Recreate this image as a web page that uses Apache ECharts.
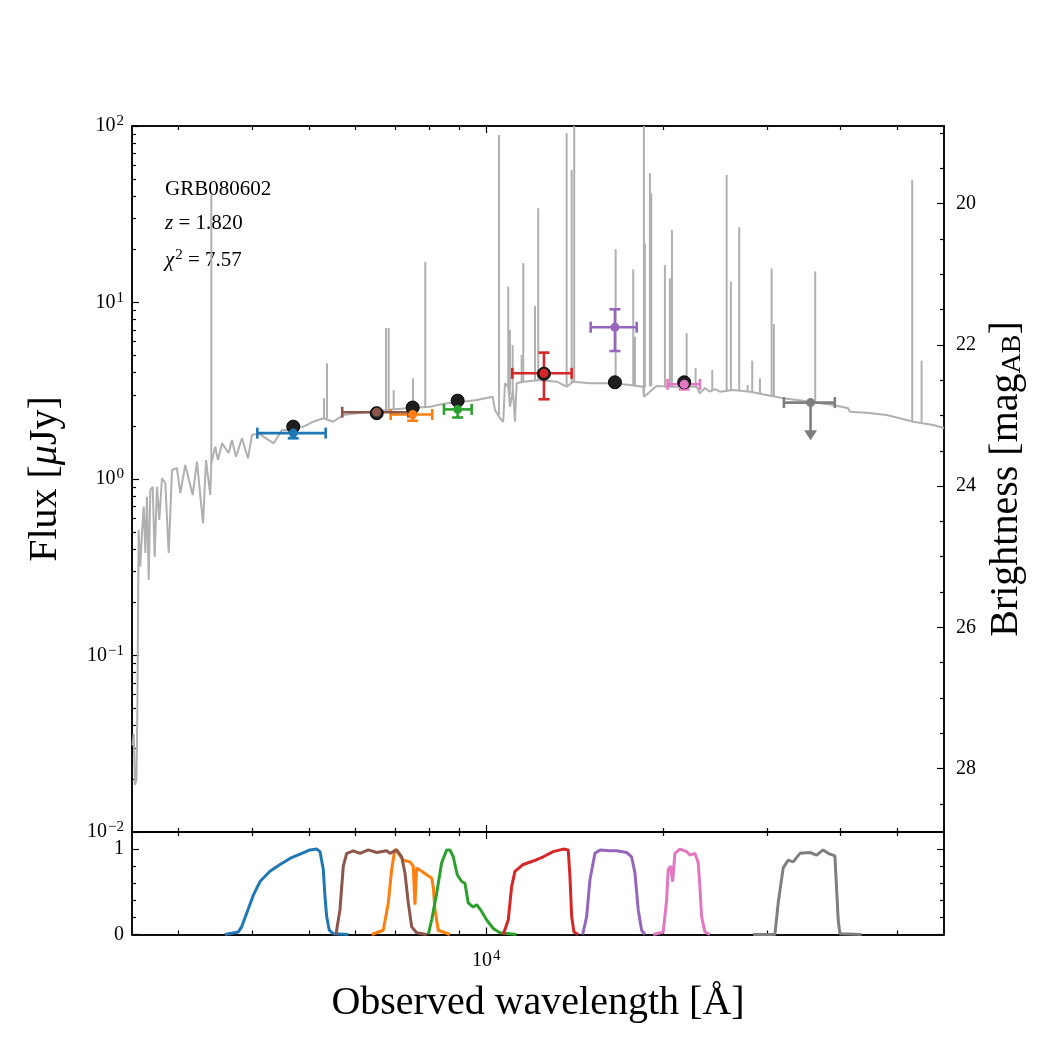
<!DOCTYPE html>
<html>
<head>
<meta charset="utf-8">
<script src="https://cdn.jsdelivr.net/npm/echarts@6/dist/echarts.min.js"></script>
<style>html,body{margin:0;padding:0;background:#fff}#sed{width:1050px;height:1050px}</style>
</head>
<body>
<div id="sed"></div>
<script>
// model spectrum (continuum), wavelength in Angstrom, flux in microJy
var specWave = [2505, 2517, 2529, 2544, 2554, 2566, 2583, 2600, 2617, 2634, 2651, 2669, 2686, 2711, 2732, 2757, 2782, 2811, 2848, 2886,
  2924, 2981, 3020, 3080, 3170, 3224, 3301, 3340, 3396, 3410, 3463, 3500, 3556, 3650, 3697, 3756, 3845, 3936, 3998, 4105,
  4353, 4497, 4640, 4801, 4888, 5083, 5286, 5496, 5716, 6023, 6427, 6773, 7325, 8024, 8566, 9141, 9633, 10256, 10349, 10553,
  10690, 10762, 10901, 10974, 11104, 11191, 11266, 11561, 12342, 13174, 13700, 14058, 15008, 16440, 17551, 18489, 18539, 19484, 20525, 21621,
  22785, 23081, 23537, 24002, 24477, 24960, 26294, 28070, 29966, 31977, 35499, 38889, 41241, 41516, 44320, 47928, 50488, 53186, 57516, 60000];
var specFlux = [0.031, 0.036, 0.0185, 0.0197, 0.056, 0.514, 0.318, 0.494, 0.697, 0.381, 0.794, 0.268, 0.867, 0.904, 0.363, 0.904, 0.586, 1.01, 0.949, 0.381,
  1.125, 1.154, 0.833, 1.20, 0.811, 1.253, 0.561, 1.281, 0.811, 1.232, 1.524, 1.281, 1.593, 1.404, 1.663, 1.337, 1.70, 1.31, 1.776, 1.815,
  1.593, 1.895, 1.895, 1.978, 1.978, 2.112, 2.208, 2.112, 2.304, 2.356, 2.406, 2.460, 2.515, 2.568, 2.685, 2.742, 2.803, 2.926, 2.460, 2.208,
  2.112, 3.485, 3.334, 2.568, 3.193, 2.112, 3.485, 3.559, 3.638, 3.559, 3.334, 3.559, 3.485, 3.485, 3.409, 3.334, 2.926, 3.365, 3.334, 3.334,
  3.334, 3.059, 3.278, 3.123, 3.23, 3.123, 3.193, 3.123, 2.991, 2.866, 2.742, 2.626, 2.515, 2.406, 2.374, 2.304, 2.208, 2.112, 2.023, 1.945];

// emission lines of the model: wavelength, peak flux, continuum under the line
var lineWave = [3410, 5300, 5363, 6755, 6827, 6962, 7508, 7878, 10512, 10901, 10974, 11091, 11488, 11561, 12103, 12260, 13700, 13971, 14113, 16596,
  17779, 17898, 18539, 18612, 18980, 19077, 20127, 20525, 20686, 21911, 22696, 24221, 25624, 26059, 26919, 27819, 28324, 29191, 30558, 30834,
  36242, 52978, 54963];
var linePeak = [40.6, 2.87, 4.52, 7.17, 7.17, 3.19, 3.72, 17.0, 88.9, 12.3, 6.99, 5.74, 5.04, 16.7, 9.55, 34.2, 90.9, 56.3, 110, 20.1,
  15.4, 6.40, 120, 21.6, 54.0, 41.6, 16.3, 13.7, 25.8, 6.69, 4.24, 4.15, 52.8, 13.1, 26.7, 3.41, 4.68, 3.72, 15.6, 7.55,
  15.0, 49.4, 4.68];
var lineBase = [1.23, 2.2, 2.2, 2.45, 2.46, 2.47, 2.5, 2.55, 2.3, 3.3, 3.0, 3.2, 3.5, 3.55, 3.6, 3.6, 3.4, 3.5, 3.55, 3.48,
  3.4, 3.4, 3.0, 3.3, 3.35, 3.35, 3.33, 3.33, 3.33, 3.33, 3.33, 3.15, 3.18, 3.18, 3.16, 3.12, 3.1, 3.05, 2.95, 2.95,
  2.72, 2.13, 2.09];

// photometry (tab10 colour order)
var photColors = ['#1f77b4', '#ff7f0e', '#2ca02c', '#d62728', '#9467bd', '#8c564b', '#e377c2', '#7f7f7f'];
var photWave = [4699, 7499, 8943, 12537, 16550, 6514, 21706, 35590];
var photWaveLo = [4083, 6880, 8476, 11074, 15051, 5692, 20337, 32064];
var photWaveHi = [5335, 8096, 9446, 13972, 18020, 7371, 23084, 39140];
var photFlux = [1.82, 2.32, 2.48, 3.97, 7.24, 2.39, 3.44, 2.71];
var photFluxLo = [1.70, 2.14, 2.23, 2.83, 5.31, 2.35, 3.22, 1.66];
var photFluxHi = [1.91, 2.50, 2.71, 5.20, 9.15, 2.43, 3.67, 2.71];
var photUpper = [0, 0, 0, 0, 0, 0, 0, 1];
var modelFlux = [1.98, 2.54, 2.78, 3.95, 3.53, 2.36, 3.53, null];

// filter transmission curves
var gWave = [3597, 3790, 3840, 3916, 4019, 4126, 4290, 4462, 4640, 4825, 5018, 5151, 5218, 5286, 5321, 5356, 5411, 5496, 5828];
var gTrans = [0, 0.03, 0.09, 0.25, 0.46, 0.62, 0.74, 0.82, 0.89, 0.94, 0.99, 1.0, 0.97, 0.76, 0.44, 0.21, 0.05, 0.01, 0];
var iWave = [6387, 6684, 6816, 6907, 6997, 7088, 7228, 7420, 7516, 7566, 7617, 7768, 7921, 8078, 8128, 8183, 8289, 8677];
var iTrans = [0, 0.05, 0.37, 0.76, 1.0, 0.95, 0.87, 0.85, 0.80, 0.35, 0.78, 0.74, 0.70, 0.66, 0.56, 0.29, 0.05, 0];
var zWave = [7971, 8078, 8237, 8400, 8566, 8677, 8790, 8929, 9084, 9202, 9322, 9506, 9633, 9823, 10018, 10280, 10553, 11266];
var zTrans = [0, 0.17, 0.48, 0.84, 0.99, 0.99, 0.91, 0.70, 0.62, 0.60, 0.37, 0.32, 0.35, 0.27, 0.17, 0.07, 0.02, 0];
var jWave = [10690, 10901, 11047, 11191, 11561, 12022, 12502, 13001, 13520, 13787, 13879, 13972, 14098, 14337];
var jTrans = [0, 0.17, 0.56, 0.74, 0.82, 0.86, 0.91, 0.97, 1.0, 0.99, 0.68, 0.21, 0.03, 0];
var hWave = [14586, 14816, 15008, 15306, 15608, 16231, 16661, 17326, 17668, 17898, 18130, 18373, 18612];
var hTrans = [0, 0.21, 0.64, 0.95, 0.99, 0.98, 0.98, 0.96, 0.91, 0.72, 0.29, 0.05, 0];
var rWave = [5554, 5642, 5716, 5792, 5944, 6101, 6303, 6514, 6773, 6861, 7044, 7183, 7276, 7371, 7470, 7617, 7921];
var rTrans = [0, 0.29, 0.80, 0.95, 0.98, 0.95, 0.99, 0.96, 0.98, 0.95, 0.99, 0.91, 0.72, 0.37, 0.09, 0.02, 0];
var kWave = [19227, 19994, 20262, 20389, 20581, 20743, 20931, 21344, 21911, 22196, 22634, 22928, 23081, 23235, 23537, 24002];
var kTrans = [0, 0.03, 0.40, 0.76, 0.80, 0.62, 0.95, 1.0, 0.97, 0.93, 0.95, 0.84, 0.56, 0.21, 0.03, 0];
var chWave = [28435, 30955, 31358, 31977, 32609, 33253, 34137, 35499, 36441, 37395, 38134, 39147, 39656, 39920, 43461];
var chTrans = [0, 0, 0.37, 0.78, 0.87, 0.85, 0.95, 0.96, 0.93, 0.99, 0.95, 0.92, 0.17, 0.01, 0];

// ticks
var waveMajor = [10000];
var waveMinor = [3000, 4000, 5000, 6000, 7000, 8000, 9000, 20000, 30000, 40000, 50000];
var fluxMajor = [0.01, 0.1, 1, 10, 100];
var fluxMinor = [0.02, 0.03, 0.04, 0.05, 0.06, 0.07, 0.08, 0.09, 0.2, 0.3, 0.4, 0.5, 0.6, 0.7, 0.8, 0.9,
  2, 3, 4, 5, 6, 7, 8, 9, 20, 30, 40, 50, 60, 70, 80, 90];
var magMajor = [20, 22, 24, 26, 28];
var magMinor = [19, 19.5, 20.5, 21, 21.5, 22.5, 23, 23.5, 24.5, 25, 25.5, 26.5, 27, 27.5, 28.5];
var transMajor = [0, 1];
var transMinor = [0.2, 0.4, 0.6, 0.8];

var FONT = '"Liberation Serif", "DejaVu Serif", serif';
var GREY = '#b0b0b0';
var chart = echarts.init(document.getElementById('sed'), null, {renderer: 'canvas'});

function pairs(xs, ys) {
  var out = [];
  for (var i = 0; i < xs.length; i++) out.push([xs[i], ys[i]]);
  return out;
}

function powLabel(v) {
  var e = Math.round(Math.log10(v));
  return '{b|10}{s|' + (e < 0 ? '\u2212' + (-e) : e) + '}';
}
var powRich = {
  b: {fontFamily: FONT, fontSize: 20, color: '#000'},
  s: {fontFamily: FONT, fontSize: 15, color: '#000', verticalAlign: 'bottom', padding: [0, 0, 9, 1]}
};

function axis(grid, pos, type, min, max, ticks, len, extra) {
  var a = {
    type: type, gridIndex: grid, position: pos, min: min, max: max,
    axisLine: {show: true, onZero: false, lineStyle: {color: '#000', width: 1.5}},
    axisTick: {show: true, inside: true, length: len, customValues: ticks, lineStyle: {color: '#000', width: 1.2}},
    axisLabel: {show: false},
    splitLine: {show: false},
    minorTick: {show: false},
    minorSplitLine: {show: false}
  };
  if (type === 'log') a.logBase = 10;
  for (var k in extra) a[k] = extra[k];
  return a;
}

var xAxes = [
  axis(0, 'bottom', 'log', 2500, 60000, waveMajor, 7),
  axis(0, 'bottom', 'log', 2500, 60000, waveMinor, 4),
  axis(0, 'top', 'log', 2500, 60000, waveMajor, 7),
  axis(0, 'top', 'log', 2500, 60000, waveMinor, 4),
  axis(1, 'top', 'log', 2500, 60000, waveMajor, 7),
  axis(1, 'top', 'log', 2500, 60000, waveMinor, 4),
  axis(1, 'bottom', 'log', 2500, 60000, waveMajor, 7, {
    axisLabel: {show: true, customValues: waveMajor, margin: 14, formatter: powLabel, rich: powRich}
  }),
  axis(1, 'bottom', 'log', 2500, 60000, waveMinor, 4, {
    name: 'Observed wavelength [\u00c5]', nameLocation: 'middle', nameGap: 49,
    nameTextStyle: {fontFamily: FONT, fontSize: 40, color: '#000'}
  })
];

var yAxes = [
  axis(0, 'left', 'log', 0.01, 100, fluxMajor, 7, {
    axisLabel: {show: true, customValues: fluxMajor, margin: 8, formatter: powLabel, rich: powRich},
    name: 'Flux [{i|\u03bc}Jy]', nameLocation: 'middle', nameGap: 67, nameRotate: 90,
    nameTextStyle: {fontFamily: FONT, fontSize: 40, color: '#000',
      rich: {i: {fontFamily: FONT, fontSize: 40, fontStyle: 'italic', color: '#000'}}}
  }),
  axis(0, 'left', 'log', 0.01, 100, fluxMinor, 4),
  axis(0, 'right', 'value', 18.9, 28.9, magMajor, 7, {
    inverse: true,
    axisLabel: {show: true, customValues: magMajor, margin: 12, fontFamily: FONT, fontSize: 20, color: '#000'},
    name: 'Brightness [mag{sub|AB}]', nameLocation: 'middle', nameGap: 37, nameRotate: 90,
    nameTextStyle: {fontFamily: FONT, fontSize: 40, color: '#000',
      rich: {sub: {fontFamily: FONT, fontSize: 28, color: '#000', verticalAlign: 'bottom'}}}
  }),
  axis(0, 'right', 'value', 18.9, 28.9, magMinor, 4, {inverse: true}),
  axis(1, 'left', 'value', 0, 1.2, transMajor, 7, {
    axisLabel: {show: true, customValues: transMajor, margin: 8, fontFamily: FONT, fontSize: 20, color: '#000'}
  }),
  axis(1, 'left', 'value', 0, 1.2, transMinor, 4),
  axis(1, 'right', 'value', 0, 1.2, transMajor, 7),
  axis(1, 'right', 'value', 0, 1.2, transMinor, 4)
];

function drawEmission(params, api) {
  var top = api.coord([api.value(0), api.value(1)]);
  var bot = api.coord([api.value(0), api.value(2)]);
  return {type: 'line', shape: {x1: top[0], y1: top[1], x2: bot[0], y2: bot[1]},
    style: {stroke: GREY, lineWidth: 2}};
}

function drawErrorBar(params, api) {
  var col = photColors[params.dataIndex];
  var c = api.coord([api.value(0), api.value(1)]);
  var l = api.coord([api.value(2), api.value(1)]);
  var r = api.coord([api.value(3), api.value(1)]);
  var b = api.coord([api.value(0), api.value(4)]);
  var t = api.coord([api.value(0), api.value(5)]);
  var st = {stroke: col, lineWidth: 2.6};
  var cap = 5.5;
  var kids = [
    {type: 'line', shape: {x1: l[0], y1: c[1], x2: r[0], y2: c[1]}, style: st},
    {type: 'line', shape: {x1: l[0], y1: c[1] - cap, x2: l[0], y2: c[1] + cap}, style: st},
    {type: 'line', shape: {x1: r[0], y1: c[1] - cap, x2: r[0], y2: c[1] + cap}, style: st}
  ];
  if (api.value(6)) {
    kids.push({type: 'line', shape: {x1: c[0], y1: c[1], x2: c[0], y2: b[1] - 9}, style: st});
    kids.push({type: 'polygon', shape: {points: [[c[0] - 6.5, b[1] - 10], [c[0] + 6.5, b[1] - 10], [c[0], b[1]]]},
      style: {fill: col}});
  } else {
    kids.push({type: 'line', shape: {x1: c[0], y1: t[1], x2: c[0], y2: b[1]}, style: st});
    kids.push({type: 'line', shape: {x1: c[0] - cap, y1: t[1], x2: c[0] + cap, y2: t[1]}, style: st});
    kids.push({type: 'line', shape: {x1: c[0] - cap, y1: b[1], x2: c[0] + cap, y2: b[1]}, style: st});
  }
  return {type: 'group', children: kids};
}

var lineData = [];
for (var i = 0; i < lineWave.length; i++) lineData.push([lineWave[i], linePeak[i], lineBase[i]]);

var errData = [], markData = [], modelData = [];
for (var j = 0; j < photWave.length; j++) {
  errData.push([photWave[j], photFlux[j], photWaveLo[j], photWaveHi[j], photFluxLo[j], photFluxHi[j], photUpper[j]]);
  markData.push({value: [photWave[j], photFlux[j]], itemStyle: {color: photColors[j]}});
  if (modelFlux[j] !== null) modelData.push([photWave[j], modelFlux[j]]);
}

var filters = [
  [gWave, gTrans], [iWave, iTrans], [zWave, zTrans], [jWave, jTrans],
  [hWave, hTrans], [rWave, rTrans], [kWave, kTrans], [chWave, chTrans]
];

var series = [
  {type: 'line', xAxisIndex: 0, yAxisIndex: 0, data: pairs(specWave, specFlux), symbol: 'none',
    lineStyle: {color: GREY, width: 2}, z: 2},
  {type: 'custom', xAxisIndex: 0, yAxisIndex: 0, data: lineData, renderItem: drawEmission,
    encode: {x: 0, y: [1, 2]}, clip: true, z: 2},
  {type: 'custom', xAxisIndex: 0, yAxisIndex: 0, data: errData, renderItem: drawErrorBar,
    encode: {x: [0, 2, 3], y: [1, 4, 5]}, clip: true, z: 3},
  {type: 'scatter', xAxisIndex: 0, yAxisIndex: 0, data: modelData, symbol: 'circle', symbolSize: 13,
    itemStyle: {color: '#1e1e1e', borderColor: '#000', borderWidth: 1, opacity: 1}, z: 4},
  {type: 'scatter', xAxisIndex: 0, yAxisIndex: 0, data: markData, symbol: 'circle', symbolSize: 9,
    itemStyle: {opacity: 1}, z: 5}
];
filters.forEach(function (f, k) {
  series.push({type: 'line', xAxisIndex: 6, yAxisIndex: 4, data: pairs(f[0], f[1]), symbol: 'none',
    lineStyle: {color: photColors[k], width: 3}, z: 2});
});

chart.setOption({
  animation: false,
  backgroundColor: '#fff',
  grid: [
    {left: 132, top: 126, width: 812, height: 706, containLabel: false, outerBoundsMode: 'none'},
    {left: 132, top: 832, width: 812, height: 102.5, containLabel: false, outerBoundsMode: 'none'}
  ],
  xAxis: xAxes,
  yAxis: yAxes,
  graphic: [
    {type: 'text', left: 165, top: 179, style: {text: 'GRB080602', font: '21px ' + FONT, fill: '#000'}},
    {type: 'text', left: 165, top: 213, style: {text: '{i|z} = 1.820', font: '21px ' + FONT, fill: '#000',
      rich: {i: {fontStyle: 'italic', fontFamily: FONT, fontSize: 21}}}},
    {type: 'text', left: 165, top: 248, style: {text: '{i|\u03c7}{s|2} = 7.57', font: '21px ' + FONT, fill: '#000',
      rich: {i: {fontStyle: 'italic', fontFamily: FONT, fontSize: 21},
        s: {fontFamily: FONT, fontSize: 15, verticalAlign: 'bottom', padding: [0, 0, 9, 1]}}}}
  ],
  series: series
});
</script>
</body>
</html>
